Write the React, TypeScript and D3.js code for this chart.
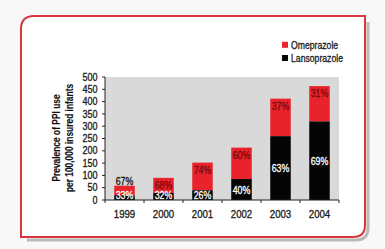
import React from "react";
import * as d3 from "d3";

const years = ["1999", "2000", "2001", "2002", "2003", "2004"];
const totals = [58, 90, 152, 213, 412, 463];
const lansoPct = [33, 32, 26, 40, 63, 69];
const omepPct = [67, 68, 74, 60, 37, 31];
const yTicks = [0, 50, 100, 150, 200, 250, 300, 350, 400, 450, 500];
const seriesNames = ["Omeprazole", "Lansoprazole"];

const W = 385;
const H = 249;
const FONT = "'Liberation Sans', Arial, sans-serif";
const RED = "#e8232b";
const BLACK = "#050505";
const FRAME = "#d9363e";

const plot = { left: 105, right: 339, top: 77, bottom: 200 };

type TProps = {
  x: number;
  y: number;
  size: number;
  sx?: number;
  anchor?: "start" | "middle" | "end";
  fill?: string;
  bold?: boolean;
  rotate?: number;
  children: React.ReactNode;
};

// Condensed text: regular face squeezed horizontally
function T({ x, y, size, sx = 0.88, anchor = "middle", fill = "#1a1a1a", bold = false, rotate = 0, children }: TProps) {
  return (
    <text
      transform={`translate(${x},${y}) rotate(${rotate}) scale(${sx},1)`}
      textAnchor={anchor}
      dominantBaseline="central"
      fontSize={size}
      fontWeight={bold ? "bold" : "normal"}
      fill={fill}
      stroke={fill}
      strokeWidth={bold ? 0.15 : 0.3}
    >
      {children}
    </text>
  );
}

export default function App() {
  const x = d3.scaleBand<string>().domain(years).range([plot.left, plot.right]).paddingInner(0.474).paddingOuter(0.237);
  const y = d3.scaleLinear().domain([0, 500]).range([plot.bottom, plot.top]);
  const bw = x.bandwidth();
  const boundaries = d3.range(years.length + 1).map((i) => plot.left + i * ((plot.right - plot.left) / years.length));

  // Frame with rounded top-left and bottom-right corners
  const fx0 = 21, fy0 = 16, fx1 = 365, fy1 = 237, r1 = 13, r2 = 12;
  const framePath = `M${fx0},${fy1} L${fx0},${fy0 + r1} Q${fx0},${fy0} ${fx0 + r1},${fy0} L${fx1},${fy0} L${fx1},${fy1 - r2} Q${fx1},${fy1} ${fx1 - r2},${fy1} Z`;
  const sh = 3;
  const shadowPath = `M${fx0 + 6},${fy1 + sh} L${fx1 - r2 + sh},${fy1 + sh} Q${fx1 + sh},${fy1 + sh} ${fx1 + sh},${fy1 - r2 + sh} L${fx1 + sh},${fy0 + 6}`;

  return (
    <svg width={W} height={H} style={{ position: "absolute", left: 0, top: 0 }} fontFamily={FONT}>
      <rect width={W} height={H} fill="#f8f8f8" />
      <path d={shadowPath} fill="none" stroke="#b9b9b9" strokeWidth={3} />
      <path d={framePath} fill="#ffffff" stroke={FRAME} strokeWidth={2} />

      {/* plot background */}
      <rect x={plot.left} y={plot.top} width={plot.right - plot.left} height={plot.bottom - plot.top} fill="#d9d9d9" />

      {/* stacked bars */}
      {years.map((yr, i) => {
        const total = totals[i];
        const lanso = (total * lansoPct[i]) / 100;
        const bx = x(yr)!;
        const yTop = y(total);
        const yMid = y(lanso);
        const cx = bx + bw / 2;
        const omepInside = yMid - yTop > 12;
        return (
          <g key={yr}>
            <rect x={bx} y={yTop} width={bw} height={yMid - yTop} fill={RED} />
            <rect x={bx} y={yMid} width={bw} height={y(0) - yMid} fill={BLACK} />
            <T x={cx} y={omepInside ? yTop + 7.5 : yTop - 4.5} size={10} fill={omepInside ? "#7a0a0c" : "#111"}>
              {omepPct[i]}%
            </T>
            <T x={cx} y={Math.min((yMid + y(0)) / 2 + 0.5, y(0) - 4.5)} size={10} fill="#ffffff">
              {lansoPct[i]}%
            </T>
          </g>
        );
      })}

      {/* y axis */}
      <line x1={plot.left} x2={plot.left} y1={plot.top} y2={plot.bottom} stroke="#222" strokeWidth={1} />
      {yTicks.map((t) => (
        <g key={t}>
          <line x1={plot.left - 3} x2={plot.left} y1={y(t)} y2={y(t)} stroke="#222" />
          <T x={plot.left - 7.5} y={y(t)} size={10} sx={0.9} anchor="end">
            {t}
          </T>
        </g>
      ))}

      {/* x axis */}
      <line x1={plot.left} x2={plot.right} y1={plot.bottom} y2={plot.bottom} stroke="#222" />
      {boundaries.map((bx, i) => (
        <line key={i} x1={bx} x2={bx} y1={plot.bottom} y2={plot.bottom + 3} stroke="#222" />
      ))}
      {years.map((yr) => (
        <T key={yr} x={x(yr)! + bw / 2} y={214} size={10.5} sx={0.92}>
          {yr}
        </T>
      ))}

      {/* y axis title */}
      <T x={56} y={138} size={10.5} sx={0.8} bold rotate={-90} fill="#111">
        Prevalence of PPI use
      </T>
      <T x={69.5} y={138} size={10.5} sx={0.8} bold rotate={-90} fill="#111">
        per 100,000 insured infants
      </T>

      {/* legend */}
      {seriesNames.map((name, i) => (
        <g key={name}>
          <rect x={282} y={41.8 + i * 13.2} width={6} height={6} fill={i === 0 ? RED : BLACK} />
          <T x={291} y={44.8 + i * 13.2} size={10.2} sx={0.85} anchor="start">
            {name}
          </T>
        </g>
      ))}
    </svg>
  );
}
